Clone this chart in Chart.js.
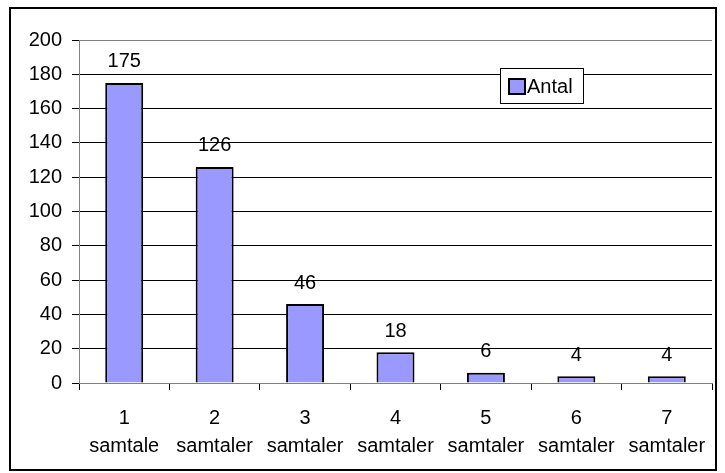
<!DOCTYPE html>
<html>
<head>
<meta charset="utf-8">
<script src="https://cdn.jsdelivr.net/npm/chart.js@4"></script>
<style>
  body { margin: 0; background: #fff; }
  #wrap { position: relative; width: 725px; height: 473px; }
</style>
</head>
<body>
<div id="wrap"><canvas id="chart" width="725" height="473"></canvas></div>
<script>
// data
const categories = [["1", "samtale"], ["2", "samtaler"], ["3", "samtaler"], ["4", "samtaler"], ["5", "samtaler"], ["6", "samtaler"], ["7", "samtaler"]];
const antal = [175, 126, 46, 18, 6, 4, 4];
const yTicks = [0, 20, 40, 60, 80, 100, 120, 140, 160, 180, 200];

const FONT = "'Liberation Sans', Arial, sans-serif";

// outer frame, value labels and the little legend box inside the plot
const extras = {
  id: "extras",
  beforeDraw(chart) {
    const c = chart.ctx;
    c.save();
    c.fillStyle = "#fff";
    c.fillRect(0, 0, chart.width, chart.height);
    c.strokeStyle = "#000";
    c.lineWidth = 2;
    c.strokeRect(10, 8, 706, 462);
    c.restore();
  },
  afterDatasetsDraw(chart) {
    const c = chart.ctx;
    const meta = chart.getDatasetMeta(0);
    c.save();
    c.font = "20px " + FONT;
    c.fillStyle = "#000";
    c.textAlign = "center";
    c.textBaseline = "bottom";
    meta.data.forEach((bar, i) => {
      c.fillText(String(antal[i]), bar.x, bar.y - 11);
    });

    // legend
    const ds = chart.data.datasets[0];
    c.fillStyle = "#fff";
    c.fillRect(500.5, 68.5, 83, 35);
    c.strokeStyle = "#000";
    c.lineWidth = 1;
    c.strokeRect(500.5, 68.5, 83, 35);
    c.fillStyle = ds.backgroundColor;
    c.fillRect(509, 79, 16, 15);
    c.lineWidth = 2;
    c.strokeRect(509, 79, 16, 15);
    c.fillStyle = "#000";
    c.textAlign = "left";
    c.textBaseline = "middle";
    c.fillText(ds.label, 527, 87);
    c.restore();
  }
};

new Chart(document.getElementById("chart"), {
  type: "bar",
  data: {
    labels: categories,
    datasets: [
      {
        label: "Antal",
        data: antal,
        backgroundColor: "#9999FF",
        borderColor: "#000",
        borderWidth: 2,
        categoryPercentage: 1,
        barPercentage: 0.42,
      },
    ],
  },
  options: {
    responsive: false,
    animation: false,
    layout: { padding: { left: 0, right: 13, top: 40, bottom: 0 } },
    plugins: {
      legend: { display: false },
      tooltip: { enabled: false },
    },
    scales: {
      x: {
        grid: {
          offset: true,
          drawOnChartArea: false,
          color: "#000",
          tickLength: 7,
        },
        border: { color: "#808080", width: 1 },
        ticks: {
          color: "#000",
          font: { family: FONT, size: 20, lineHeight: 1.4 },
          padding: 14,
          maxRotation: 0,
          autoSkip: false,
        },
        afterFit: (scale) => { scale.height = 90; },
      },
      y: {
        min: 0,
        max: 200,
        afterBuildTicks: (scale) => { scale.ticks = yTicks.map((v) => ({ value: v })); },
        grid: {
          color: (ctx) => (ctx.tick && ctx.tick.value === 200 ? "#808080" : "#000"),
          tickColor: "#000",
          tickLength: 7,
        },
        border: { color: "#808080", width: 1 },
        ticks: {
          color: "#000",
          font: { family: FONT, size: 20 },
          padding: 10,
        },
        afterFit: (scale) => { scale.width = 79; },
      },
    },
  },
  plugins: [extras],
});
</script>
</body>
</html>
